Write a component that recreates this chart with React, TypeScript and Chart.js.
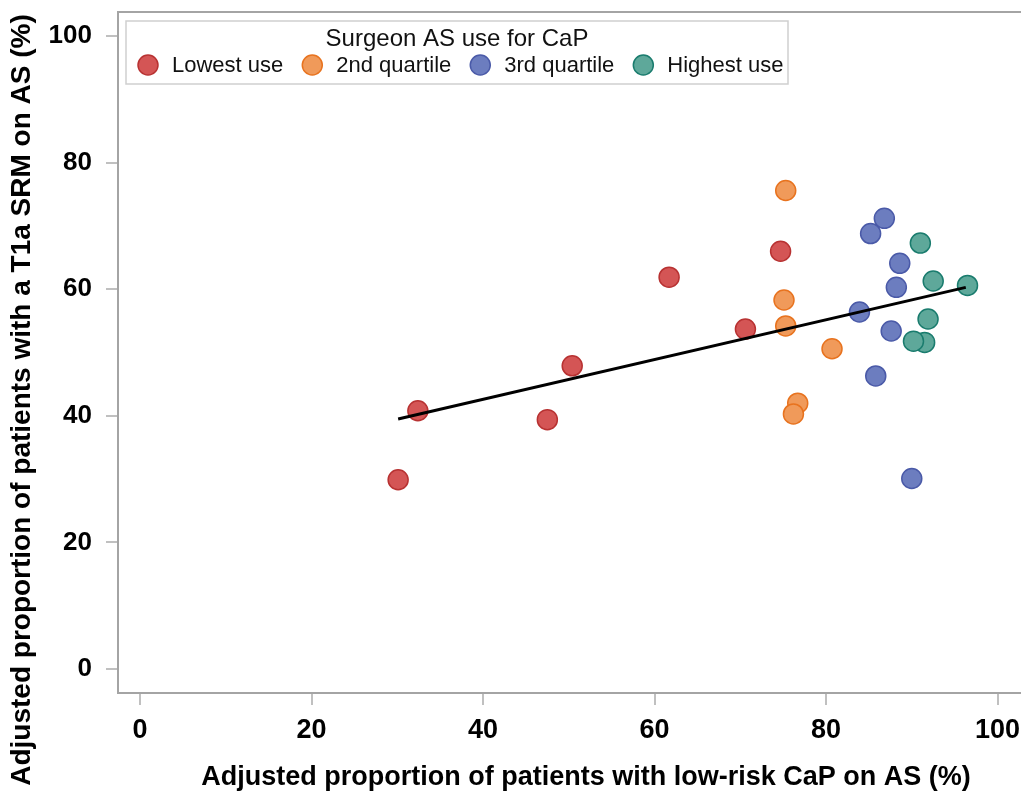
import React, { useEffect, useRef } from 'react';
import { Chart, registerables } from 'chart.js';

Chart.register(...registerables);

const legendTitle = 'Surgeon AS use for CaP';
const seriesNames = ['Lowest use', '2nd quartile', '3rd quartile', 'Highest use'];
const fillColors = ['#d45555', '#f09a5a', '#6c7dbf', '#5ea89a'];
const edgeColors = ['#b83232', '#e8731f', '#4a5aa8', '#1a7c6e'];

const lowestX = [30.1, 32.4, 47.5, 50.4, 61.7, 70.6, 74.7];
const lowestY = [29.9, 40.8, 39.4, 47.9, 61.9, 53.7, 66.0];
const secondX = [75.3, 75.1, 75.3, 80.7, 76.7, 76.2];
const secondY = [75.6, 58.3, 54.2, 50.6, 42.0, 40.3];
const thirdX = [86.8, 85.2, 88.6, 88.2, 83.9, 87.6, 85.8, 90.0];
const thirdY = [71.2, 68.8, 64.1, 60.3, 56.4, 53.4, 46.3, 30.1];
const highestX = [91.0, 92.5, 96.5, 91.9, 91.5, 90.2];
const highestY = [67.3, 61.3, 60.6, 55.3, 51.6, 51.8];

const trendX = [30.1, 96.3];
const trendY = [39.5, 60.3];

const xTicks = [0, 20, 40, 60, 80, 100];
const yTicks = [0, 20, 40, 60, 80, 100];

const xTitle = 'Adjusted proportion of patients with low-risk CaP on AS (%)';
const yTitle = 'Adjusted proportion of patients with a T1a SRM on AS (%)';

const FONT = "'Liberation Sans', Arial, Helvetica, sans-serif";

const toPoints = (xs: number[], ys: number[]) => xs.map((x, i) => ({ x, y: ys[i] }));

const framePlugin = {
  id: 'frameAndLegend',
  afterDatasetsDraw(chart: any) {
    const { ctx, chartArea } = chart;
    ctx.save();
    // top / right frame lines
    ctx.strokeStyle = '#a4a4a4';
    ctx.lineWidth = 2;
    ctx.beginPath();
    ctx.moveTo(chartArea.left, chartArea.top);
    ctx.lineTo(chartArea.right, chartArea.top);
    ctx.lineTo(chartArea.right, chartArea.bottom);
    ctx.stroke();

    // legend box
    const bx = 126, by = 21, bw = 662, bh = 63;
    ctx.fillStyle = '#ffffff';
    ctx.fillRect(bx, by, bw, bh);
    ctx.strokeStyle = '#cfcfcf';
    ctx.lineWidth = 1.5;
    ctx.strokeRect(bx, by, bw, bh);

    ctx.fillStyle = '#111';
    ctx.font = `24px ${FONT}`;
    ctx.textAlign = 'center';
    ctx.textBaseline = 'middle';
    ctx.fillText(legendTitle, bx + bw / 2, 39);

    ctx.font = `22px ${FONT}`;
    ctx.textAlign = 'left';
    let cx = bx + 22;
    const iy = 65;
    const sets = chart.data.datasets.filter((d: any) => d.isGroup);
    sets.forEach((d: any) => {
      ctx.beginPath();
      ctx.arc(cx, iy, 10, 0, Math.PI * 2);
      ctx.fillStyle = d.backgroundColor;
      ctx.fill();
      ctx.lineWidth = 1.5;
      ctx.strokeStyle = d.borderColor;
      ctx.stroke();
      ctx.fillStyle = '#111';
      ctx.fillText(d.label, cx + 24, iy + 1);
      const w = ctx.measureText(d.label).width;
      cx = cx + 24 + w + 29;
    });

    // axis titles
    ctx.fillStyle = '#000';
    ctx.font = `bold 27px ${FONT}`;
    ctx.textAlign = 'center';
    ctx.textBaseline = 'middle';
    ctx.fillText(xTitle, 586, 778);

    ctx.save();
    ctx.translate(22, 400);
    ctx.rotate(-Math.PI / 2);
    ctx.font = `bold 28px ${FONT}`;
    ctx.fillText(yTitle, 0, 0);
    ctx.restore();

    ctx.restore();
  },
};

export default function App() {
  const ref = useRef<HTMLCanvasElement>(null);

  useEffect(() => {
    if (!ref.current) return;
    const groups = [
      toPoints(lowestX, lowestY),
      toPoints(secondX, secondY),
      toPoints(thirdX, thirdY),
      toPoints(highestX, highestY),
    ];
    const datasets: any[] = [
      {
        type: 'line',
        label: 'Fit',
        data: toPoints(trendX, trendY),
        borderColor: '#000',
        borderWidth: 3,
        pointRadius: 0,
        fill: false,
        order: 0,
      },
      ...groups.map((pts, i) => ({
        label: seriesNames[i],
        isGroup: true,
        data: pts,
        backgroundColor: fillColors[i],
        borderColor: edgeColors[i],
        borderWidth: 1.5,
        pointRadius: 10,
        pointHoverRadius: 10,
        order: 4 - i,
      })),
    ];

    const chart = new Chart(ref.current, {
      type: 'scatter',
      data: { datasets },
      plugins: [framePlugin],
      options: {
        animation: false,
        responsive: false,
        maintainAspectRatio: false,
        layout: { padding: { top: 12, right: 0, bottom: 0, left: 0 } },
        plugins: { legend: { display: false }, tooltip: { enabled: false } },
        scales: {
          x: {
            type: 'linear',
            min: -2.57,
            max: 103.03,
            afterBuildTicks: (s: any) => { s.ticks = xTicks.map((v) => ({ value: v })); },
            afterFit: (s: any) => { s.height = 100; s.paddingLeft = 0; s.paddingRight = 0; },
            grid: { drawOnChartArea: false, drawTicks: true, tickLength: 12, color: '#c0c0c0', lineWidth: 2 },
            border: { color: '#a4a4a4', width: 2 },
            ticks: { color: '#000', font: { family: FONT, size: 27, weight: 'bold' }, padding: 9, maxRotation: 0 },
            title: { display: false },
          },
          y: {
            type: 'linear',
            min: -3.79,
            max: 103.8,
            afterBuildTicks: (s: any) => { s.ticks = yTicks.map((v) => ({ value: v })); },
            afterFit: (s: any) => { s.width = 118; s.paddingTop = 0; s.paddingBottom = 0; },
            grid: { drawOnChartArea: false, drawTicks: true, tickLength: 12, color: '#c0c0c0', lineWidth: 2 },
            border: { color: '#a4a4a4', width: 2 },
            ticks: { color: '#000', font: { family: FONT, size: 26, weight: 'bold' }, padding: 14 },
            title: { display: false },
          },
        },
      } as any,
    });
    return () => chart.destroy();
  }, []);

  return (
    <div style={{ position: 'absolute', left: 0, top: 0, width: 1021, height: 793, background: '#fff', overflow: 'hidden' }}>
      <canvas ref={ref} width={1035} height={793} style={{ display: 'block' }} />
    </div>
  );
}
